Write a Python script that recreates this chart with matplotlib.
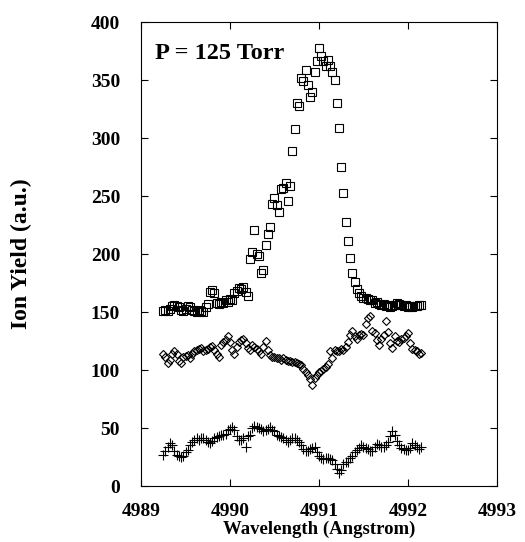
import matplotlib
matplotlib.use("Agg")
import matplotlib.pyplot as plt

# wavelength scan (Angstrom), shared by the three traces
wavelength = [
    4989.250, 4989.275, 4989.300, 4989.325, 4989.350, 4989.375, 4989.400, 4989.425, 4989.450, 4989.475,
    4989.500, 4989.525, 4989.550, 4989.575, 4989.600, 4989.625, 4989.650, 4989.675, 4989.700, 4989.725,
    4989.750, 4989.775, 4989.800, 4989.825, 4989.850, 4989.875, 4989.900, 4989.925, 4989.950, 4989.975,
    4990.000, 4990.025, 4990.050, 4990.075, 4990.100, 4990.125, 4990.150, 4990.175, 4990.200, 4990.225,
    4990.250, 4990.275, 4990.300, 4990.325, 4990.350, 4990.375, 4990.400, 4990.425, 4990.450, 4990.475,
    4990.500, 4990.525, 4990.550, 4990.575, 4990.600, 4990.625, 4990.650, 4990.675, 4990.700, 4990.725,
    4990.750, 4990.775, 4990.800, 4990.825, 4990.850, 4990.875, 4990.900, 4990.925, 4990.950, 4990.975,
    4991.000, 4991.025, 4991.050, 4991.075, 4991.100, 4991.125, 4991.150, 4991.175, 4991.200, 4991.225,
    4991.250, 4991.275, 4991.300, 4991.325, 4991.350, 4991.375, 4991.400, 4991.425, 4991.450, 4991.475,
    4991.500, 4991.525, 4991.550, 4991.575, 4991.600, 4991.625, 4991.650, 4991.675, 4991.700, 4991.725,
    4991.750, 4991.775, 4991.800, 4991.825, 4991.850, 4991.875, 4991.900, 4991.925, 4991.950, 4991.975,
    4992.000, 4992.025, 4992.050, 4992.075, 4992.100, 4992.125, 4992.150,
]

# top trace (open squares)
yield_squares = [
    151, 152, 151, 153, 155, 156, 155, 154, 152, 151,
    153, 155, 154, 152, 151, 150, 152, 151, 150, 154,
    157, 167, 169, 166, 158, 157, 159, 158, 160, 159,
    161, 160, 166, 168, 171, 170, 172, 167, 164, 196,
    202, 221, 200, 198, 184, 186, 208, 217, 223, 243,
    248, 242, 236, 256, 257, 261, 246, 259, 289, 308,
    330, 328, 352, 349, 359, 346, 335, 340, 357, 366,
    378, 371, 366, 362, 367, 362, 357, 350, 330, 309,
    275, 253, 228, 211, 197, 184, 176, 170, 166, 164,
    162, 162, 161, 160, 160, 158, 159, 157, 156, 157,
    155, 156, 154, 155, 156, 158, 157, 156, 155, 156,
    154, 155, 154, 155, 155, 156, 156,
]

# middle trace (open diamonds)
yield_diamonds = [
    114, 111, 106, 109, 114, 116, 114, 108, 106, 111,
    112, 113, 110, 114, 116, 117, 118, 119, 116, 117,
    118, 120, 121, 117, 114, 111, 122, 124, 126, 129,
    124, 117, 114, 120, 124, 126, 127, 123, 119, 117,
    122, 120, 118, 116, 114, 120, 125, 117, 113, 111,
    111, 110, 110, 109, 110, 109, 108, 108, 107, 107,
    106, 105, 104, 101, 98, 96, 92, 87, 93, 96,
    98, 99, 101, 103, 105, 116, 110, 117, 116, 116,
    118, 117, 120, 124, 130, 134, 129, 127, 130, 131,
    130, 140, 145, 147, 134, 132, 126, 122, 127, 130,
    142, 133, 123, 119, 129, 125, 124, 127, 128, 129,
    132, 123, 118, 117, 116, 114, 115,
]

# bottom trace (plus signs)
yield_plus = [
    27, 30, 34, 37, 35, 30, 27, 26, 25, 26,
    29, 31, 35, 38, 40, 41, 40, 41, 41, 40,
    38, 37, 39, 41, 42, 43, 44, 44, 45, 48,
    49, 51, 48, 43, 40, 40, 41, 34, 43, 44,
    50, 52, 51, 50, 49, 47, 48, 49, 51, 48,
    47, 44, 43, 42, 41, 40, 38, 40, 41, 41,
    40, 38, 35, 32, 30, 30, 32, 33, 34, 29,
    26, 24, 23, 24, 24, 23, 22, 19, 15, 11,
    14, 19, 21, 21, 24, 26, 29, 31, 33, 35,
    34, 33, 32, 30, 30, 34, 36, 35, 34, 34,
    35, 38, 43, 47, 44, 39, 35, 33, 32, 31,
    31, 33, 37, 35, 34, 32, 34,
]

x_ticks = [4989, 4990, 4991, 4992, 4993]
y_ticks = [0, 50, 100, 150, 200, 250, 300, 350, 400]

plt.rcParams["font.family"] = ["Liberation Serif", "DejaVu Serif"]
plt.rcParams["font.weight"] = "bold"

fig = plt.figure(figsize=(5.25, 5.42), dpi=100)
ax = fig.add_axes([0.2686, 0.1033, 0.678, 0.856])

ax.plot(wavelength, yield_squares, linestyle="none", marker="s", markersize=6,
        markerfacecolor="none", markeredgecolor="black", markeredgewidth=0.8)
ax.plot(wavelength, yield_diamonds, linestyle="none", marker="D", markersize=4.5,
        markerfacecolor="none", markeredgecolor="black", markeredgewidth=0.8)
ax.plot(wavelength, yield_plus, linestyle="none", marker="+", markersize=7,
        markeredgecolor="black", markeredgewidth=0.8)

ax.set_xlim(4989, 4993)
ax.set_ylim(0, 400)
ax.set_xticks(x_ticks)
ax.set_yticks(y_ticks)
ax.set_xticklabels([str(t) for t in x_ticks])
ax.tick_params(direction="in", length=5, width=0.8, top=True, right=True,
               labelsize=14)
ax.tick_params(axis="x", pad=12)
ax.tick_params(axis="y", pad=15)
for lab in ax.get_xticklabels() + ax.get_yticklabels():
    lab.set_fontweight("bold")
for s in ax.spines.values():
    s.set_linewidth(0.8)

ax.set_xlabel("Wavelength (Angstrom)", fontsize=13.5, fontweight="bold", labelpad=1)
ax.set_ylabel("Ion Yield (a.u.)", fontsize=17, fontweight="bold", labelpad=42)
ax.text(0.04, 0.955, "P = 125 Torr", transform=ax.transAxes, fontsize=17.5,
        fontweight="bold", va="top", ha="left")

fig.savefig("out.png", dpi=100)
